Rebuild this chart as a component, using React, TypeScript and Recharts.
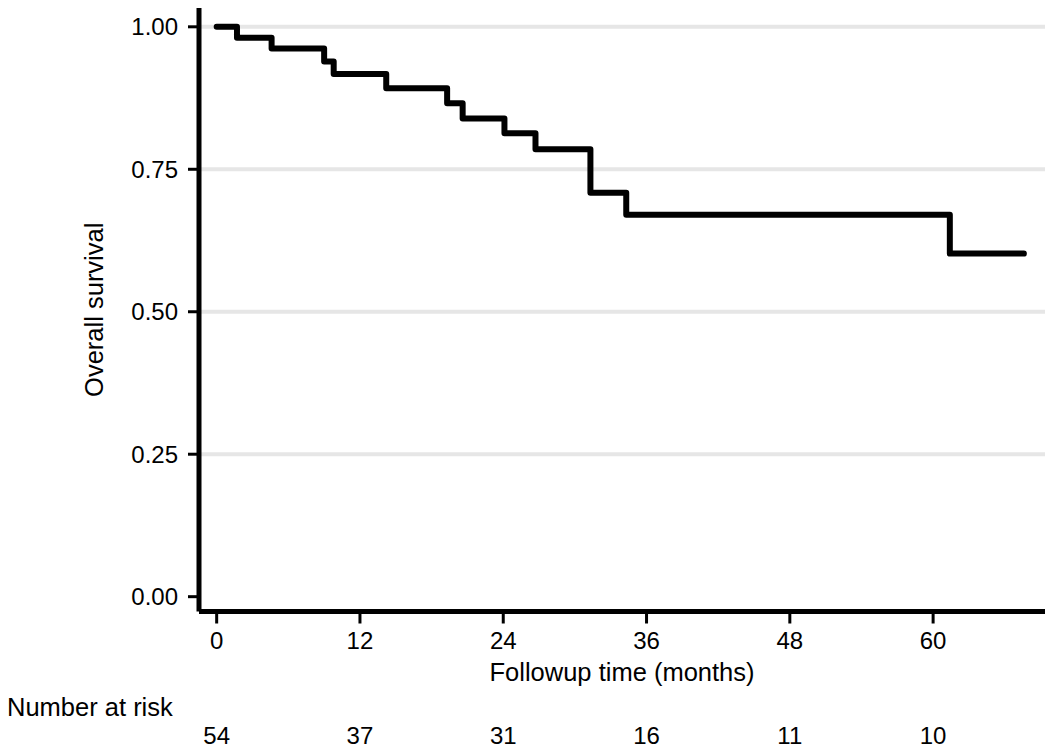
import { LineChart, Line, XAxis, YAxis, ReferenceLine } from "recharts";

// Kaplan-Meier step points
const months = [0, 1.7, 4.6, 9.0, 9.8, 14.2, 19.3, 20.6, 24.1, 26.7, 31.3, 34.3, 61.4, 67.6];
const survival = [1, 0.981, 0.962, 0.939, 0.917, 0.892, 0.866, 0.839, 0.813, 0.785, 0.709, 0.67, 0.602, 0.602];

const xTicks = [0, 12, 24, 36, 48, 60];
const atRisk = [54, 37, 31, 16, 11, 10];
const yTicks = [0, 0.25, 0.5, 0.75, 1];
const gridValues = [0.25, 0.5, 0.75, 1];

const data = months.map((t, i) => ({ t, s: survival[i] }));

const FONT = "'Liberation Sans', Arial, Helvetica, sans-serif";
const INK = "#000";

const XTitle = ({ viewBox }: any) => (
  <text
    x={viewBox.x + viewBox.width / 2}
    y={viewBox.y + 69.5}
    textAnchor="middle"
    fontSize={25.5}
    fontFamily={FONT}
    fill={INK}
  >
    Followup time (months)
  </text>
);

const RiskTitle = ({ viewBox }: any) => (
  <text x={7} y={viewBox.y + 32.5} fontSize={25.5} fontFamily={FONT} fill={INK}>
    Number at risk
  </text>
);

const YTitle = ({ viewBox }: any) => {
  const cx = 103;
  const cy = viewBox.y + viewBox.height / 2;
  return (
    <text
      x={cx}
      y={cy}
      transform={`rotate(-90, ${cx}, ${cy})`}
      textAnchor="middle"
      fontSize={25.5}
      fontFamily={FONT}
      fill={INK}
    >
      Overall survival
    </text>
  );
};

export default function App() {
  return (
    <div style={{ position: "absolute", left: 0, top: 0, background: "#fff" }}>
      <LineChart
        width={1050}
        height={756}
        data={data}
        margin={{ top: 8, right: 5, bottom: 0, left: 0 }}
      >
        <XAxis
          dataKey="t"
          type="number"
          domain={[-1.48, 69.37]}
          ticks={xTicks}
          allowDataOverflow
          height={72}
          tickSize={12}
          tickMargin={8.5}
          axisLine={{ stroke: INK, strokeWidth: 5 }}
          tickLine={{ stroke: INK, strokeWidth: 3 }}
          tick={{ fill: INK, fontSize: 24, fontFamily: FONT }}
          label={<XTitle />}
        />
        <XAxis
          xAxisId="risk"
          dataKey="t"
          type="number"
          domain={[-1.48, 69.37]}
          ticks={xTicks}
          allowDataOverflow
          height={72.5}
          axisLine={false}
          tickLine={false}
          tickSize={0}
          tickMargin={43.5}
          tickFormatter={(v: number) => String(atRisk[xTicks.indexOf(v)] ?? "")}
          tick={{ fill: INK, fontSize: 24, fontFamily: FONT }}
          label={<RiskTitle />}
        />
        <YAxis
          type="number"
          domain={[-0.026, 1.033]}
          ticks={yTicks}
          allowDataOverflow
          width={199}
          tickSize={11}
          tickMargin={10}
          tickFormatter={(v: number) => v.toFixed(2)}
          axisLine={{ stroke: INK, strokeWidth: 5 }}
          tickLine={{ stroke: INK, strokeWidth: 3 }}
          tick={{ fill: INK, fontSize: 24, fontFamily: FONT }}
          label={<YTitle />}
        />
        {gridValues.map((v) => (
          <ReferenceLine key={v} y={v} stroke="#e6e6e6" strokeWidth={4} />
        ))}
        <Line
          dataKey="s"
          type="stepAfter"
          stroke={INK}
          strokeWidth={6}
          strokeLinecap="round"
          strokeLinejoin="round"
          dot={false}
          activeDot={false}
          isAnimationActive={false}
        />
      </LineChart>
    </div>
  );
}
